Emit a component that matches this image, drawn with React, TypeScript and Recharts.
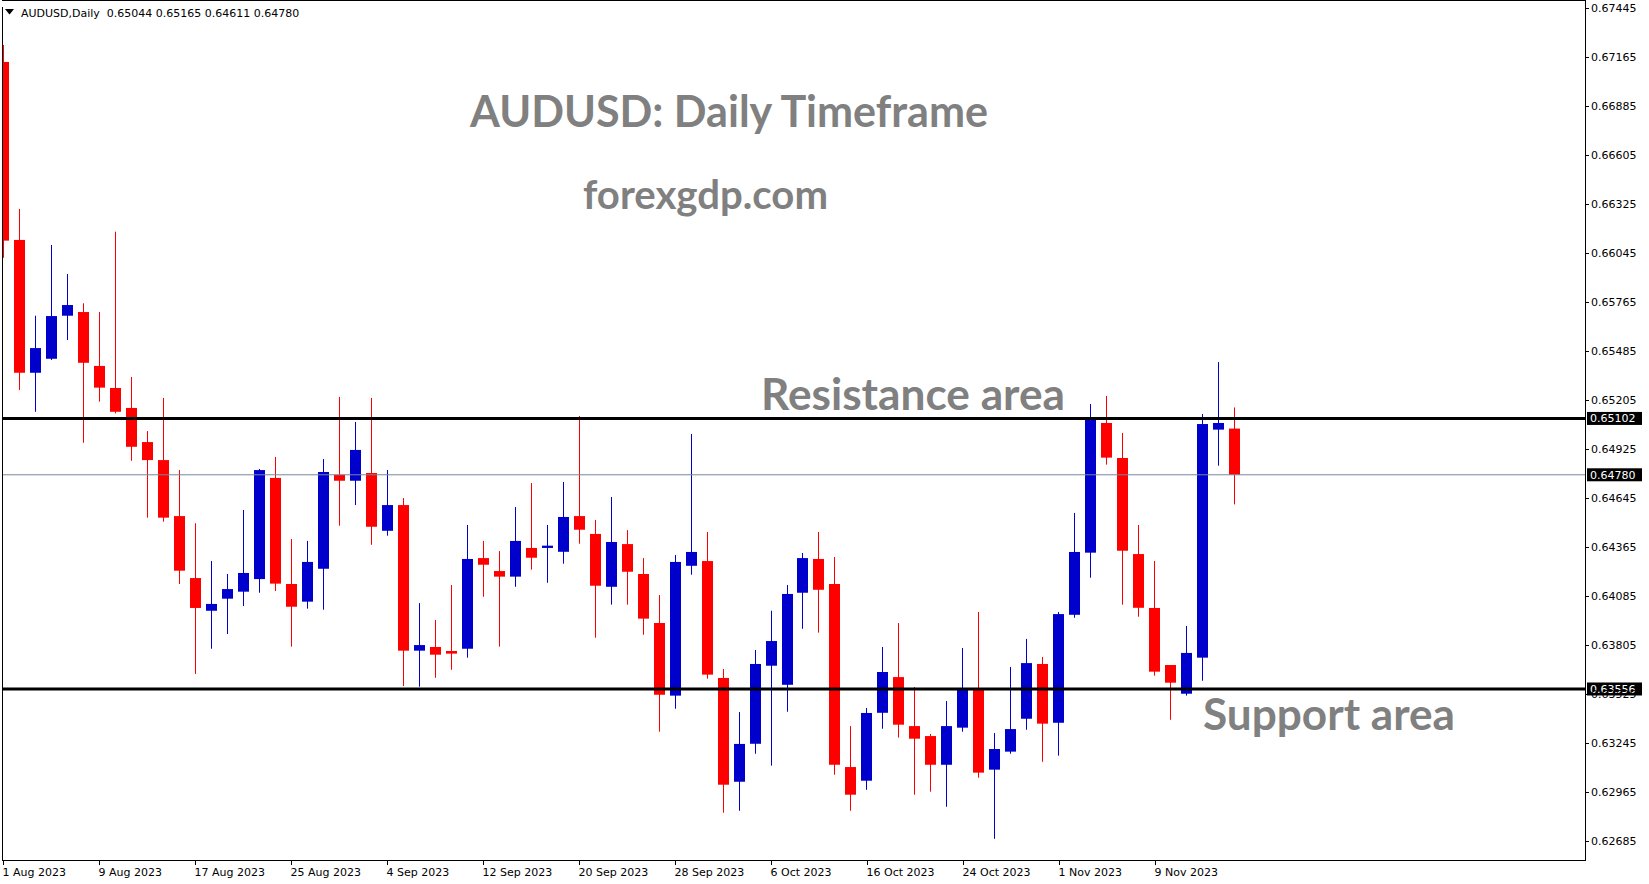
import React from 'react';
import { ComposedChart, Bar, XAxis, YAxis, ReferenceLine } from 'recharts';

// ---- data ----
const opens = [
  0.67139, 0.66122, 0.65363, 0.65443, 0.65689, 0.65710, 0.65402, 0.65276, 0.65162, 0.64967,
  0.64864, 0.64544, 0.64190, 0.64003, 0.64072, 0.64112, 0.64184, 0.64762, 0.64156, 0.64055,
  0.64243, 0.64780, 0.64746, 0.64790, 0.64460, 0.64607, 0.63775, 0.63796, 0.63773, 0.63786,
  0.64304, 0.64230, 0.64198, 0.64362, 0.64362, 0.64340, 0.64544, 0.64442, 0.64140, 0.64384,
  0.64213, 0.63933, 0.63518, 0.64260, 0.64287, 0.63619, 0.63026, 0.63243, 0.63689, 0.63580,
  0.64106, 0.64299, 0.64156, 0.63110, 0.63032, 0.63420, 0.63624, 0.63344, 0.63287, 0.63123,
  0.63335, 0.63550, 0.63095, 0.63198, 0.63386, 0.63699, 0.63363, 0.63980, 0.64335, 0.65076,
  0.64876, 0.64327, 0.64019, 0.63693, 0.63529, 0.63735, 0.65038, 0.65044,
];
const highs = [
  0.67236, 0.66299, 0.65689, 0.66093, 0.65927, 0.65760, 0.65710, 0.66169, 0.65339, 0.65030,
  0.65219, 0.64807, 0.64503, 0.64287, 0.64213, 0.64579, 0.64813, 0.64882, 0.64413, 0.64402,
  0.64870, 0.65225, 0.65082, 0.65219, 0.64807, 0.64647, 0.64047, 0.63950, 0.64150, 0.64493,
  0.64402, 0.64344, 0.64596, 0.64733, 0.64493, 0.64739, 0.65116, 0.64522, 0.64653, 0.64464,
  0.64304, 0.64093, 0.64322, 0.65013, 0.64453, 0.63670, 0.63424, 0.63779, 0.64003, 0.64150,
  0.64333, 0.64453, 0.64310, 0.63344, 0.63447, 0.63796, 0.63933, 0.63567, 0.63299, 0.63487,
  0.63790, 0.63996, 0.63304, 0.63682, 0.63842, 0.63739, 0.63996, 0.64562, 0.65184, 0.65230,
  0.65019, 0.64493, 0.64287, 0.63693, 0.63916, 0.65127, 0.65424, 0.65165,
];
const lows = [
  0.66020, 0.65264, 0.65140, 0.65436, 0.65550, 0.64963, 0.65198, 0.65131, 0.64860, 0.64535,
  0.64512, 0.64156, 0.63642, 0.63786, 0.63870, 0.64030, 0.64106, 0.64116, 0.63798, 0.64015,
  0.64009, 0.64489, 0.64607, 0.64380, 0.64432, 0.63573, 0.63569, 0.63620, 0.63666, 0.63735,
  0.64083, 0.63798, 0.64140, 0.64238, 0.64163, 0.64272, 0.64386, 0.63849, 0.64038, 0.64038,
  0.63866, 0.63312, 0.63443, 0.64209, 0.63615, 0.62849, 0.62860, 0.63186, 0.63118, 0.63426,
  0.63900, 0.63878, 0.63066, 0.62860, 0.62980, 0.63329, 0.63278, 0.62952, 0.62969, 0.62883,
  0.63312, 0.63049, 0.62700, 0.63186, 0.63323, 0.63140, 0.63175, 0.63963, 0.64192, 0.64838,
  0.64038, 0.63969, 0.63632, 0.63380, 0.63518, 0.63603, 0.64832, 0.64611,
];
const closes = [
  0.66118, 0.65363, 0.65504, 0.65687, 0.65750, 0.65420, 0.65278, 0.65140, 0.64940, 0.64864,
  0.64535, 0.64232, 0.64019, 0.64042, 0.64127, 0.64219, 0.64807, 0.64158, 0.64026, 0.64282,
  0.64796, 0.64746, 0.64922, 0.64483, 0.64607, 0.63775, 0.63807, 0.63752, 0.63758, 0.64299,
  0.64266, 0.64198, 0.64402, 0.64306, 0.64375, 0.64539, 0.64466, 0.64146, 0.64396, 0.64226,
  0.63958, 0.63523, 0.64282, 0.64339, 0.63638, 0.63009, 0.63242, 0.63699, 0.63830, 0.64099,
  0.64304, 0.64123, 0.63123, 0.62952, 0.63419, 0.63653, 0.63352, 0.63272, 0.63123, 0.63344,
  0.63550, 0.63078, 0.63213, 0.63327, 0.63704, 0.63358, 0.63984, 0.64339, 0.65099, 0.64878,
  0.64346, 0.64020, 0.63655, 0.63592, 0.63762, 0.65070, 0.65076, 0.64780,
];

const dateTickIndex = [0, 6, 12, 18, 24, 30, 36, 42, 48, 54, 60, 66, 72];
const dateTickLabels = [
  '1 Aug 2023', '9 Aug 2023', '17 Aug 2023', '25 Aug 2023', '4 Sep 2023', '12 Sep 2023',
  '20 Sep 2023', '28 Sep 2023', '6 Oct 2023', '16 Oct 2023', '24 Oct 2023', '1 Nov 2023', '9 Nov 2023',
];
const priceTicks = [
  0.67445, 0.67165, 0.66885, 0.66605, 0.66325, 0.66045, 0.65765, 0.65485, 0.65205,
  0.64925, 0.64645, 0.64365, 0.64085, 0.63805, 0.63525, 0.63245, 0.62965, 0.62685,
];
const resistanceLevel = 0.65102;
const supportLevel = 0.63556;
const bidLevel = 0.6478;
const priceDomain = [0.625788, 0.674759];
const barDomain = [-0.03125, 98.875];

const data = opens.map((o, i) => ({
  i,
  open: o,
  high: highs[i],
  low: lows[i],
  close: closes[i],
}));

// ---- style ----
const BULL = '#0000CC';
const BEAR = '#FF0000';
const TICK_FONT = '"DejaVu Sans", Verdana, sans-serif';
const TITLE_FONT = 'Lato, "Open Sans", sans-serif';
const TITLE_GRAY = '#808080';

const Candle = (props: any) => {
  const { x, y, width, height, payload } = props;
  if (!payload || x == null || y == null) return null;
  const top = Math.min(y, y + height);
  const bot = Math.max(y, y + height);
  const { open, close, high, low } = payload;
  const span = high - low;
  const py = (p: number) => (span > 0 ? top + ((high - p) / span) * (bot - top) : top);
  const cx = Math.floor(x + width / 2 + 0.25) + 0.5;
  const color = close >= open ? BULL : BEAR;
  const bTop = py(Math.max(open, close));
  const bBot = py(Math.min(open, close));
  return (
    <g>
      <line x1={cx} x2={cx} y1={top} y2={bot} stroke={color} strokeWidth={1} />
      <rect x={cx - 5.5} y={bTop} width={11} height={Math.max(1.5, bBot - bTop)} fill={color} />
    </g>
  );
};

const DateTick = (props: any) => {
  const { x, y, payload } = props;
  const k = dateTickIndex.indexOf(payload.value);
  const label = k >= 0 ? dateTickLabels[k] : '';
  const xx = Math.floor(x) + 0.5;
  return (
    <g>
      <line x1={xx} x2={xx} y1={y} y2={y + 5} stroke="#000" strokeWidth={1} />
      <text x={xx - 1} y={y + 16} textAnchor="start" fontSize={11} fontFamily={TICK_FONT} fill="#000">
        {label}
      </text>
    </g>
  );
};

const PriceTick = (props: any) => {
  const { x, y, payload } = props;
  const yy = Math.round(y) + 0.5;
  return (
    <g>
      <line x1={x} x2={x + 4} y1={yy} y2={yy} stroke="#000" strokeWidth={1} />
      <text x={x + 6} y={y + 4} textAnchor="start" fontSize={11} fontFamily={TICK_FONT} fill="#000">
        {payload.value.toFixed(5)}
      </text>
    </g>
  );
};

const PriceTag = (props: any) => {
  const { viewBox, text } = props;
  if (!viewBox) return null;
  const x0 = viewBox.x + viewBox.width + 2;
  const yc = viewBox.y;
  return (
    <g>
      <rect x={x0} y={yc - 6.5} width={55} height={13} fill="#000" />
      <text x={x0 + 3} y={yc + 4} fontSize={11} fontFamily={TICK_FONT} fill="#fff">
        {text}
      </text>
    </g>
  );
};

export default function App() {
  return (
    <div style={{ position: 'absolute', left: 0, top: 0, width: 1649, height: 884, background: '#fff' }}>
      <ComposedChart
        width={1649}
        height={884}
        data={data}
        margin={{ top: 3, right: 0, bottom: 0, left: 3 }}
      >
        <XAxis
          type="number"
          dataKey="i"
          domain={barDomain}
          allowDataOverflow
          ticks={dateTickIndex}
          interval={0}
          height={24}
          axisLine={false}
          tickLine={false}
          tickSize={0}
          tickMargin={0}
          tick={<DateTick />}
        />
        <YAxis
          orientation="right"
          type="number"
          domain={priceDomain}
          allowDataOverflow
          ticks={priceTicks}
          interval={0}
          width={64}
          axisLine={false}
          tickLine={false}
          tickSize={0}
          tickMargin={0}
          tick={<PriceTick />}
        />
        <Bar
          dataKey={(d: any) => [d.low, d.high]}
          barSize={11}
          shape={<Candle />}
          isAnimationActive={false}
        />
        <ReferenceLine y={bidLevel} stroke="#778899" strokeWidth={1} label={<PriceTag text="0.64780" />} />
        <ReferenceLine y={resistanceLevel} stroke="#000" strokeWidth={3} label={<PriceTag text="0.65102" />} />
        <ReferenceLine y={supportLevel} stroke="#000" strokeWidth={3} label={<PriceTag text="0.63556" />} />
      </ComposedChart>
      <svg
        width={1649}
        height={884}
        style={{ position: 'absolute', left: 0, top: 0, pointerEvents: 'none' }}
      >
        <line x1={2.5} x2={2.5} y1={7} y2={860.5} stroke="#000" strokeWidth={1} />
        <line x1={1585.5} x2={1585.5} y1={0} y2={860.5} stroke="#000" strokeWidth={1} />
        <line x1={2} x2={1586} y1={860.5} y2={860.5} stroke="#000" strokeWidth={1} />
        <line x1={2} x2={1586} y1={0.5} y2={0.5} stroke="#000" strokeWidth={1} />
        <rect x={3} y={1} width={300} height={18} fill="#fff" />
        <polygon points="5,9 14,9 9.5,14.5" fill="#000" />
        <text x={21} y={17} fontSize={11} fontFamily={TICK_FONT} fill="#000" style={{ whiteSpace: 'pre' }}>
          {'AUDUSD,Daily  0.65044 0.65165 0.64611 0.64780'}
        </text>
        <text x={470} y={127} fontSize={44} fontWeight={700} fontFamily={TITLE_FONT} fill={TITLE_GRAY} textLength={518} lengthAdjust="spacingAndGlyphs">
          AUDUSD: Daily Timeframe
        </text>
        <text x={583} y={209} fontSize={40} fontWeight={700} fontFamily={TITLE_FONT} fill={TITLE_GRAY} textLength={245} lengthAdjust="spacingAndGlyphs">
          forexgdp.com
        </text>
        <text x={761} y={410} fontSize={44} fontWeight={700} fontFamily={TITLE_FONT} fill={TITLE_GRAY} textLength={304} lengthAdjust="spacingAndGlyphs">
          Resistance area
        </text>
        <text x={1203} y={730} fontSize={44} fontWeight={700} fontFamily={TITLE_FONT} fill={TITLE_GRAY} textLength={252} lengthAdjust="spacingAndGlyphs">
          Support area
        </text>
      </svg>
    </div>
  );
}
